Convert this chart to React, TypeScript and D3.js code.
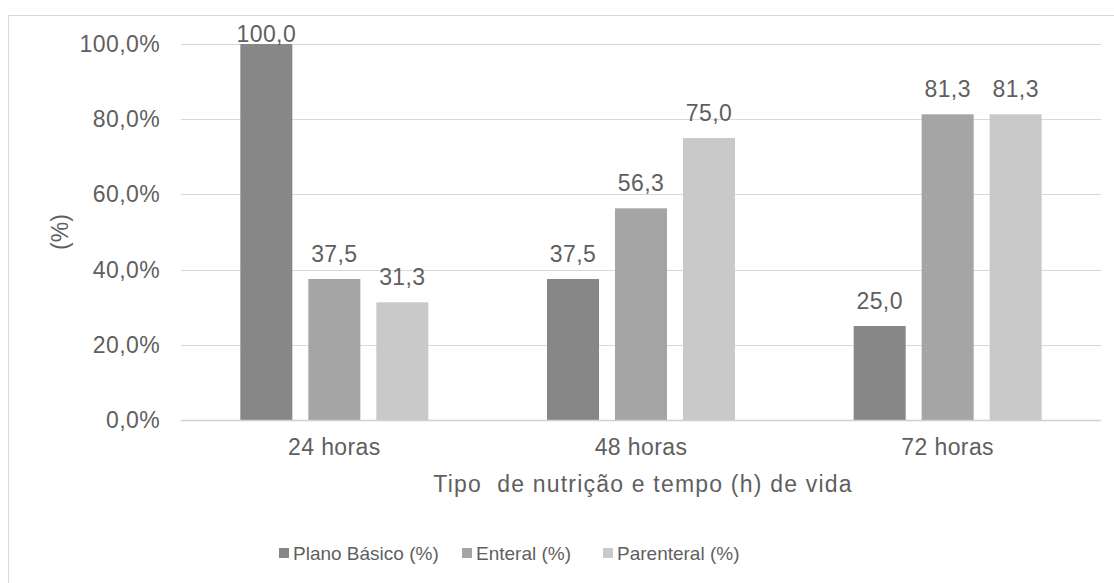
import React from "react";
import * as d3 from "d3";

const categories = ["24 horas", "48 horas", "72 horas"];
const seriesNames = ["Plano Básico (%)", "Enteral (%)", "Parenteral (%)"];
const planoBasico = [100.0, 37.5, 25.0];
const enteral = [37.5, 56.3, 81.3];
const parenteral = [31.3, 75.0, 81.3];
const yTicks = [0, 20, 40, 60, 80, 100];
const colors = ["#878787", "#a5a5a5", "#c9c9c9"];

const W = 1114;
const H = 583;
const FONT = "'Liberation Sans', Arial, sans-serif";
const TEXT = "#5f5f5f";

export default function App() {
  const values = [planoBasico, enteral, parenteral];
  const x0 = d3.scaleBand<string>().domain(categories).range([181, 1101]).padding(0);
  const groupW = 188;
  const x1 = d3
    .scaleBand<string>()
    .domain(seriesNames)
    .range([-groupW / 2, groupW / 2])
    .paddingInner(0.235)
    .paddingOuter(0);
  const y = d3.scaleLinear().domain([0, 100]).range([420, 44]);
  const fmtTick = (v: number) => d3.format(".1f")(v).replace(".", ",") + "%";
  const fmtVal = (v: number) => d3.format(".1f")(v).replace(".", ",");

  const legendX = [279, 462, 603];

  return (
    <svg
      width={W}
      height={H}
      style={{ position: "absolute", left: 0, top: 0, background: "#fff" }}
      fontFamily={FONT}
    >
      <rect x={8.5} y={15.5} width={W + 10} height={H + 10} fill="#fff" stroke="#d9d9d9" strokeWidth={1} />
      {yTicks.map((t) => (
        <line
          key={t}
          x1={181}
          x2={1101}
          y1={Math.round(y(t)) + 0.5}
          y2={Math.round(y(t)) + 0.5}
          stroke="#d9d9d9"
          strokeWidth={1}
        />
      ))}
      {yTicks.map((t) => (
        <text
          key={"l" + t}
          x={160}
          y={y(t)}
          dy="0.35em"
          textAnchor="end"
          fontSize={23}
          letterSpacing={0.4}
          fill={TEXT}
        >
          {fmtTick(t)}
        </text>
      ))}
      {categories.map((c, ci) =>
        seriesNames.map((s, si) => {
          const v = values[si][ci];
          const bx = (x0(c) as number) + x0.bandwidth() / 2 + (x1(s) as number);
          return (
            <g key={c + s}>
              <rect x={bx} y={y(v)} width={x1.bandwidth()} height={y(0) - y(v)} fill={colors[si]} />
              <text
                x={bx + x1.bandwidth() / 2}
                y={Math.max(y(v) - 17, 41.5)}
                textAnchor="middle"
                fontSize={23}
                letterSpacing={0.4}
                fill={TEXT}
              >
                {fmtVal(v)}
              </text>
            </g>
          );
        })
      )}
      <line x1={181} x2={1101} y1={420.5} y2={420.5} stroke="#d0d0d0" strokeWidth={1.5} />
      {categories.map((c) => (
        <text
          key={"c" + c}
          x={(x0(c) as number) + x0.bandwidth() / 2}
          y={455}
          textAnchor="middle"
          fontSize={23}
          letterSpacing={0.4}
          fill={TEXT}
        >
          {c}
        </text>
      ))}
      <text
        x={643}
        y={492}
        textAnchor="middle"
        fontSize={23}
        letterSpacing={1.2}
        fill={TEXT}
        style={{ whiteSpace: "pre" }}
      >
        {"Tipo  de nutrição e tempo (h) de vida"}
      </text>
      <text
        transform={`translate(${68},${232}) rotate(-90)`}
        textAnchor="middle"
        fontSize={23}
        fill={TEXT}
      >
        (%)
      </text>
      {seriesNames.map((s, i) => (
        <g key={"lg" + s} transform={`translate(${legendX[i]},553)`}>
          <rect x={0} y={-5} width={10} height={10} fill={colors[i]} />
          <text x={14} y={0} dy="0.35em" fontSize={19} fill={TEXT}>
            {s}
          </text>
        </g>
      ))}
    </svg>
  );
}
